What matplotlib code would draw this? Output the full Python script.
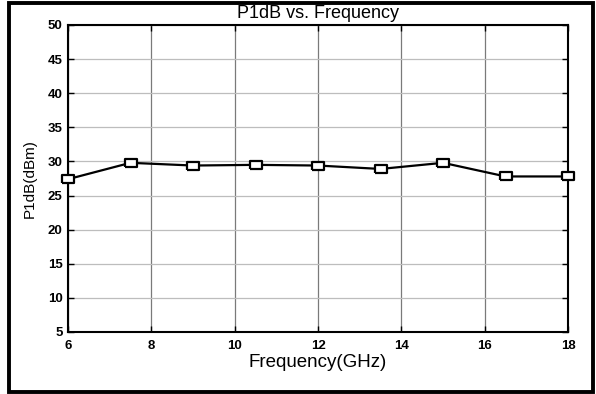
import matplotlib.pyplot as plt
from matplotlib.patches import Rectangle

# P1dB measured across the band
freq_ghz = [6, 7.5, 9, 10.5, 12, 13.5, 15, 16.5, 18]
p1db_dbm = [27.4, 29.8, 29.4, 29.5, 29.4, 28.9, 29.8, 27.8, 27.8]
x_ticks = [6, 8, 10, 12, 14, 16, 18]
y_ticks = [5, 10, 15, 20, 25, 30, 35, 40, 45, 50]

plt.rcParams['font.family'] = ['Liberation Sans', 'DejaVu Sans']

fig = plt.figure(figsize=(5.96, 3.94), dpi=100)
W, H = 596.0, 394.0

# black frame around the whole figure
fig.patches.append(Rectangle((9 / W, 2 / H), (593 - 9) / W, (391 - 2) / H,
                             transform=fig.transFigure, fill=False,
                             edgecolor='black', linewidth=2.8, zorder=10))

# slightly wide square marker
box = [(-1.3, -1), (1.3, -1), (1.3, 1), (-1.3, 1), (-1.3, -1)]

ax = fig.add_axes([68 / W, 1 - 332 / H, 500 / W, 307 / H])
ax.plot(freq_ghz, p1db_dbm, color='black', linewidth=1.6, marker=box,
        markersize=8, markerfacecolor='white', markeredgecolor='black',
        markeredgewidth=1.6, clip_on=False, zorder=5)

ax.set_xlim(6, 18)
ax.set_ylim(5, 50)
ax.set_xticks(x_ticks)
ax.set_yticks(y_ticks)
ax.xaxis.grid(True, color='#7a7a7a', linewidth=0.9)
ax.yaxis.grid(True, color='#bdbdbd', linewidth=0.9)
ax.tick_params(direction='in', top=True, right=True, length=4, width=1,
               labelsize=9.5, pad=4)
ax.tick_params(axis='x', pad=6)
for lbl in ax.get_xticklabels() + ax.get_yticklabels():
    lbl.set_fontweight('bold')
for sp in ax.spines.values():
    sp.set_linewidth(1.5)

ax.set_title('P1dB vs. Frequency', fontsize=13, pad=5)
ax.set_xlabel('Frequency(GHz)', fontsize=13.5, labelpad=1)
ax.set_ylabel('P1dB(dBm)', fontsize=11, labelpad=8)

fig.savefig('out.png', dpi=100)
